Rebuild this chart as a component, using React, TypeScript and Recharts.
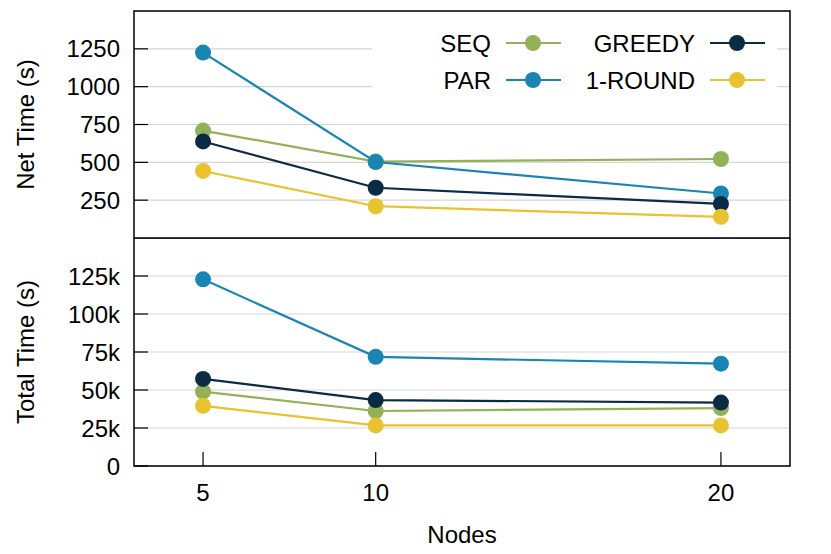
import React from 'react';
import { LineChart, Line, XAxis, YAxis, CartesianGrid, ReferenceArea, Legend } from 'recharts';

const nodes = [5, 10, 20];

const seqNet = [710, 505, 522];
const parNet = [1225, 502, 294];
const greedyNet = [638, 332, 225];
const roundNet = [443, 210, 140];

const seqTotal = [48900, 36200, 38100];
const parTotal = [122800, 71800, 67300];
const greedyTotal = [57300, 43400, 41700];
const roundTotal = [39600, 26700, 26700];

const netTicks = [250, 500, 750, 1000, 1250];
const totalTicks = [0, 25000, 50000, 75000, 100000, 125000];

const SERIES = [
  { key: 'seq', name: 'SEQ', color: '#93b159' },
  { key: 'par', name: 'PAR', color: '#1a85b3' },
  { key: 'greedy', name: 'GREEDY', color: '#0b2a43' },
  { key: 'round', name: '1-ROUND', color: '#e8c22f' },
];

const netData = nodes.map((n, i) => ({ nodes: n, seq: seqNet[i], par: parNet[i], greedy: greedyNet[i], round: roundNet[i] }));
const totalData = nodes.map((n, i) => ({ nodes: n, seq: seqTotal[i], par: parTotal[i], greedy: greedyTotal[i], round: roundTotal[i] }));

const FONT = 24;

const YTick = (props: any) => {
  const { x, y, payload, tickFormatter } = props;
  const label = tickFormatter ? tickFormatter(payload.value) : payload.value;
  return (
    <g>
      <line x1={x} x2={x + 14} y1={y} y2={y} stroke="#000" strokeWidth={1.2} />
      <text x={x - 14} y={y} dy="0.355em" textAnchor="end" fontSize={FONT} fill="#000">{label}</text>
    </g>
  );
};

const XTick = (props: any) => {
  const { x, y, payload } = props;
  return (
    <g>
      <line x1={x} x2={x} y1={y} y2={y - 14} stroke="#000" strokeWidth={1.2} />
      <text x={x} y={y + 26} dy="0.355em" textAnchor="middle" fontSize={FONT} fill="#000">{payload.value}</text>
    </g>
  );
};

const LegendBox = () => {
  const cols = [
    [SERIES[0], SERIES[1]],
    [SERIES[2], SERIES[3]],
  ];
  const colRight = [119, 323];
  const rowY = [23, 60];
  return (
    <svg width={405} height={82} style={{ display: 'block' }}>
      {cols.map((col, ci) =>
        col.map((s, ri) => (
          <g key={s.key}>
            <text x={colRight[ci]} y={rowY[ri]} dy="0.355em" textAnchor="end" fontSize={FONT} fill="#000">{s.name}</text>
            <line x1={colRight[ci] + 15} x2={colRight[ci] + 70} y1={rowY[ri]} y2={rowY[ri]} stroke={s.color} strokeWidth={2.2} />
            <circle cx={colRight[ci] + 42} cy={rowY[ri]} r={8} fill={s.color} />
          </g>
        ))
      )}
    </svg>
  );
};

const renderLines = () =>
  SERIES.map((s) => (
    <Line
      key={s.key}
      type="linear"
      dataKey={s.key}
      stroke={s.color}
      strokeWidth={2.2}
      dot={{ r: 8, fill: s.color, stroke: 'none' }}
      activeDot={false}
      isAnimationActive={false}
    />
  ));

const fmtK = (v: number) => (v === 0 ? '0' : `${v / 1000}k`);

export default function App() {
  return (
    <div style={{ position: 'absolute', left: 0, top: 0, width: 831, height: 554, background: '#fff', fontFamily: '"Liberation Sans", Arial, sans-serif' }}>
      <div style={{ position: 'absolute', left: 0, top: 0 }}>
        <LineChart width={831} height={240} data={netData} margin={{ top: 11, right: 41, bottom: 2, left: 0 }}>
          <CartesianGrid horizontal vertical={false} stroke="#d6d6d6" strokeWidth={1.2} />
          <XAxis dataKey="nodes" type="number" domain={[3, 22]} hide />
          <YAxis
            type="number"
            domain={[0, 1500]}
            ticks={netTicks}
            width={134}
            axisLine={false}
            tickLine={false}
            tickSize={0}
            tickMargin={0}
            tick={<YTick />}
            label={{ value: 'Net Time (s)', angle: -90, position: 'insideLeft', offset: 25, fontSize: FONT, fill: '#000', style: { textAnchor: 'middle' } }}
          />
          <ReferenceArea x1={3} x2={22} y1={0} y2={1500} fill="none" stroke="#000" strokeWidth={1.5} />
          {renderLines()}
          <Legend
            layout="vertical"
            align="center"
            verticalAlign="middle"
            content={<LegendBox />}
            wrapperStyle={{ position: 'absolute', left: 372, top: 20, width: 405, height: 82, background: '#fff' }}
          />
        </LineChart>
      </div>
      <div style={{ position: 'absolute', left: 0, top: 238 }}>
        <LineChart width={831} height={316} data={totalData} margin={{ top: 0, right: 41, bottom: 0, left: 0 }}>
          <CartesianGrid horizontal vertical={false} stroke="#d6d6d6" strokeWidth={1.2} />
          <XAxis
            dataKey="nodes"
            type="number"
            domain={[3, 22]}
            ticks={nodes}
            height={88}
            axisLine={false}
            tickLine={false}
            tickSize={0}
            tickMargin={0}
            tick={<XTick />}
            label={{ value: 'Nodes', position: 'insideBottom', offset: 11, fontSize: FONT, fill: '#000' }}
          />
          <YAxis
            type="number"
            domain={[0, 150000]}
            ticks={totalTicks}
            width={134}
            axisLine={false}
            tickLine={false}
            tickSize={0}
            tickMargin={0}
            tickFormatter={fmtK}
            tick={<YTick />}
            label={{ value: 'Total Time (s)', angle: -90, position: 'insideLeft', offset: 25, fontSize: FONT, fill: '#000', style: { textAnchor: 'middle' } }}
          />
          <ReferenceArea x1={3} x2={22} y1={0} y2={150000} fill="none" stroke="#000" strokeWidth={1.5} />
          {renderLines()}
        </LineChart>
      </div>
    </div>
  );
}
